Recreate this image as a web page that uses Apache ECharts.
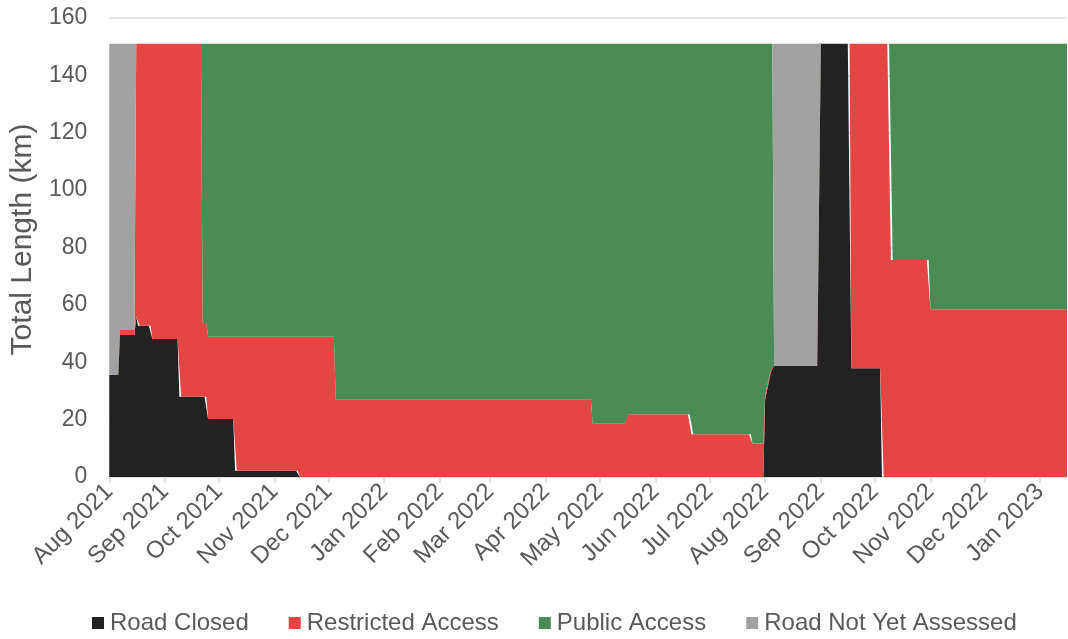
<!DOCTYPE html>
<html>
<head>
<meta charset="utf-8">
<title>Road Access Status</title>
<script src="https://cdn.jsdelivr.net/npm/echarts@6/dist/echarts.min.js"></script>
<style>
  html, body { margin: 0; padding: 0; background: #ffffff; }
  #chart { width: 1068px; height: 639px; }
</style>
</head>
<body>
<div id="chart"></div>
<script>
// Daily status of the road network (km). Each series is listed as change points:
// [date the value takes effect, length in km]; the value holds until the next change.
const firstDay = '2021-08-01';
const lastDay = '2023-01-16';

const seriesNames = ['Road Closed', 'Restricted Access', 'Public Access', 'Road Not Yet Assessed'];
const seriesColors = ['#222222', '#E34644', '#4A8C54', '#A2A2A2'];

const roadClosedSteps = [
  ['2021-08-01', 35.6], ['2021-08-07', 49.5], ['2021-08-16', 55.9], ['2021-08-17', 52.7],
  ['2021-08-25', 48.1], ['2021-09-09', 28.0], ['2021-09-25', 20.2], ['2021-10-10', 2.2],
  ['2021-11-15', 0], ['2022-08-01', 27], ['2022-08-02', 30], ['2022-08-03', 33],
  ['2022-08-04', 36], ['2022-08-05', 38.7], ['2022-08-31', 151], ['2022-09-18', 37.9],
  ['2022-10-05', 0]
];

const restrictedSteps = [
  ['2021-08-01', 0], ['2021-08-07', 1.7], ['2021-08-16', 95.1], ['2021-08-17', 98.3],
  ['2021-08-25', 102.9], ['2021-09-09', 123], ['2021-09-22', 25.7], ['2021-09-25', 28.7],
  ['2021-10-10', 46.7], ['2021-11-15', 48.9], ['2021-12-05', 27.1], ['2022-04-27', 18.7],
  ['2022-05-16', 21.9], ['2022-06-21', 14.9], ['2022-07-25', 11.7], ['2022-08-01', 1.5],
  ['2022-08-03', 1], ['2022-08-05', 0], ['2022-09-18', 113.1], ['2022-10-05', 151],
  ['2022-10-10', 75.6], ['2022-11-01', 58.5]
];

const publicSteps = [
  ['2021-08-01', 0], ['2021-09-22', 97.3], ['2021-09-25', 102.1], ['2021-12-05', 123.9],
  ['2022-04-27', 132.3], ['2022-05-16', 129.1], ['2022-06-21', 136.1], ['2022-07-25', 139.3],
  ['2022-08-01', 122.5], ['2022-08-02', 119.5], ['2022-08-03', 117], ['2022-08-04', 114],
  ['2022-08-05', 112.3], ['2022-08-06', 0], ['2022-10-10', 75.4], ['2022-11-01', 92.5]
];

const notAssessedSteps = [
  ['2021-08-01', 115.4], ['2021-08-07', 99.8], ['2021-08-16', 0],
  ['2022-08-06', 112.3], ['2022-08-31', 0]
];

const yTicks = { min: 0, max: 160, interval: 20 };
const monthNames = ['Jan', 'Feb', 'Mar', 'Apr', 'May', 'Jun', 'Jul', 'Aug', 'Sep', 'Oct', 'Nov', 'Dec'];

// Build the list of calendar days (UTC, ISO strings)
function dayList(from, to) {
  const out = [];
  const d = new Date(from + 'T00:00:00Z');
  const end = new Date(to + 'T00:00:00Z');
  while (d <= end) {
    out.push(d.toISOString().slice(0, 10));
    d.setUTCDate(d.getUTCDate() + 1);
  }
  return out;
}

// Hold each change-point value until the next change
function holdSteps(days, steps) {
  const out = [];
  let k = 0, current = 0;
  for (const day of days) {
    while (k < steps.length && steps[k][0] <= day) { current = steps[k][1]; k++; }
    out.push(current);
  }
  return out;
}

const days = dayList(firstDay, lastDay);
const allSteps = [roadClosedSteps, restrictedSteps, publicSteps, notAssessedSteps];

const isMonthStart = (idx, val) => val.slice(8) === '01';
const font = 'Liberation Sans, Arial, sans-serif';

const chart = echarts.init(document.getElementById('chart'));
chart.setOption({
  animation: false,
  backgroundColor: '#ffffff',
  textStyle: { fontFamily: font },
  grid: { left: 107, right: 1, top: 18, bottom: 162, containLabel: false },
  legend: {
    data: seriesNames,
    left: 92,
    top: 611,
    padding: 0,
    icon: 'rect',
    itemWidth: 12,
    itemHeight: 12,
    itemGap: 40,
    textStyle: { color: '#595959', fontSize: 24, fontFamily: font, padding: [0, 0, 0, 1] }
  },
  xAxis: {
    type: 'category',
    data: days,
    boundaryGap: false,
    axisLine: { lineStyle: { color: '#D9D9D9', width: 1.5 } },
    axisTick: { interval: isMonthStart, length: 6, lineStyle: { color: '#D9D9D9', width: 1.5 } },
    axisLabel: {
      interval: isMonthStart,
      rotate: 45,
      margin: 11,
      color: '#595959',
      fontSize: 24,
      formatter: v => monthNames[parseInt(v.slice(5, 7), 10) - 1] + ' ' + v.slice(0, 4)
    },
    splitLine: { show: false }
  },
  yAxis: {
    type: 'value',
    min: yTicks.min,
    max: yTicks.max,
    interval: yTicks.interval,
    name: 'Total Length (km)',
    nameLocation: 'middle',
    nameRotate: 90,
    nameGap: 71,
    nameTextStyle: { color: '#595959', fontSize: 30, padding: [0, 0, 0, 16] },
    axisLine: { show: false },
    axisTick: { show: false },
    axisLabel: { color: '#595959', fontSize: 23, margin: 22 },
    splitLine: { lineStyle: { color: '#D9D9D9', width: 1.5 } }
  },
  series: seriesNames.map((name, i) => ({
    name: name,
    type: 'line',
    stack: 'total',
    data: holdSteps(days, allSteps[i]),
    symbol: 'none',
    showSymbol: false,
    lineStyle: { width: 0 },
    itemStyle: { color: seriesColors[i] },
    areaStyle: { color: seriesColors[i], opacity: 1 }
  }))
});
</script>
</body>
</html>
